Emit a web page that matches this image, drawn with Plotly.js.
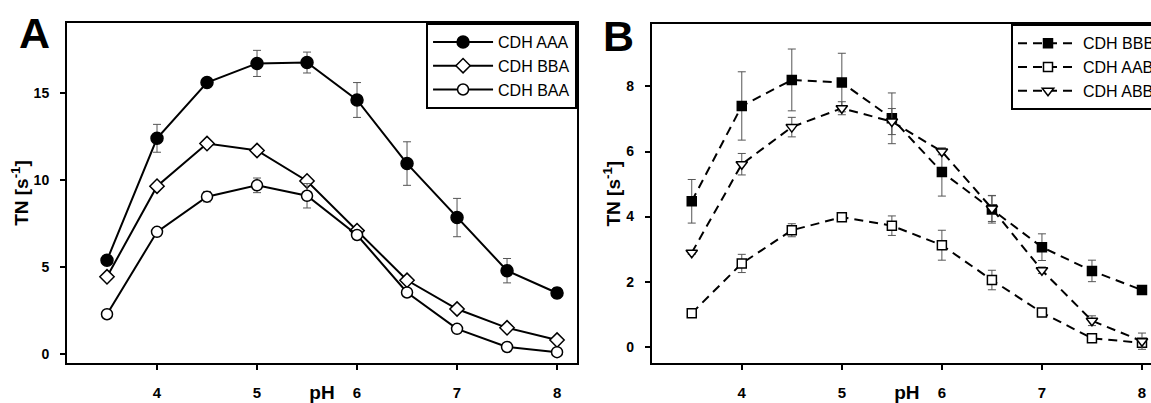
<!DOCTYPE html>
<html>
<head>
<meta charset="utf-8">
<script src="https://cdn.plot.ly/plotly-3.0.1.min.js"></script>
<style>
html, body { margin: 0; padding: 0; overflow: hidden; background: #fff; }
#chart { width: 1175px; height: 403px; }
</style>
</head>
<body>
<div id="chart"></div>
<script>
// ---- data ----
const pH = [3.5, 4.0, 4.5, 5.0, 5.5, 6.0, 6.5, 7.0, 7.5, 8.0];

// Panel A
const AAA = [5.4, 12.4, 15.6, 16.7, 16.75, 14.6, 10.95, 7.85, 4.8, 3.52];
const AAA_err = [0.2, 0.8, 0.2, 0.75, 0.6, 1.0, 1.25, 1.1, 0.7, 0.3];
const BBA = [4.45, 9.65, 12.1, 11.7, 9.95, 7.1, 4.25, 2.6, 1.52, 0.82];
const BBA_err = [0.1, 0.15, 0.15, 0.15, 0.15, 0.2, 0.15, 0.1, 0.1, 0.1];
const BAA = [2.3, 7.03, 9.05, 9.7, 9.1, 6.85, 3.55, 1.46, 0.42, 0.12];
const BAA_err = [0.1, 0.15, 0.3, 0.42, 0.7, 0.2, 0.2, 0.1, 0.1, 0.1];

// Panel B
const BBB = [4.47, 7.4, 8.2, 8.12, 7.02, 5.37, 4.22, 3.06, 2.33, 1.74];
const BBB_err = [0.67, 1.05, 0.95, 0.9, 0.78, 0.74, 0.42, 0.41, 0.33, 0.1];
const AAB = [1.03, 2.56, 3.58, 3.98, 3.72, 3.12, 2.05, 1.05, 0.26, 0.12];
const AAB_err = [0.05, 0.28, 0.2, 0.08, 0.3, 0.46, 0.3, 0.1, 0.05, 0.05];
const ABB = [2.89, 5.61, 6.75, 7.33, 6.92, 6.0, 4.25, 2.35, 0.8, 0.17];
const ABB_err = [0.05, 0.33, 0.3, 0.2, 0.4, 0.1, 0.4, 0.1, 0.15, 0.25];

const namesA = ['CDH AAA', 'CDH BBA', 'CDH BAA'];
const namesB = ['CDH BBB', 'CDH AAB', 'CDH ABB'];
const panelLabels = ['A', 'B'];
const xTicks = [4, 5, 6, 7, 8];
const yTicksA = [0, 5, 10, 15];
const yTicksB = [0, 2, 4, 6, 8];

// ---- styling ----
const FONT = 'Liberation Sans, Arial, Helvetica, sans-serif';
const errStyle = (arr) => ({type: 'data', array: arr, visible: true, color: '#555', thickness: 1, width: 4});

function tr(y, err, name, symbol, fill, dash, xa, ya, leg, size) {
  return {
    x: pH, y: y, name: name, type: 'scatter', mode: 'lines+markers',
    xaxis: xa, yaxis: ya, legend: leg,
    line: {color: '#000', width: 2, dash: dash},
    marker: {symbol: symbol, size: size, color: fill, line: {color: '#000', width: 1.5}},
    error_y: errStyle(err)
  };
}

const DASH = '9px,6px';
const data = [
  tr(AAA, AAA_err, namesA[0], 'circle', '#000', 'solid', 'x', 'y', 'legend', 12),
  tr(BBA, BBA_err, namesA[1], 'diamond', '#fff', 'solid', 'x', 'y', 'legend', 11),
  tr(BAA, BAA_err, namesA[2], 'circle', '#fff', 'solid', 'x', 'y', 'legend', 11),
  tr(BBB, BBB_err, namesB[0], 'square', '#000', DASH, 'x2', 'y2', 'legend2', 9),
  tr(AAB, AAB_err, namesB[1], 'square', '#fff', DASH, 'x2', 'y2', 'legend2', 9),
  tr(ABB, ABB_err, namesB[2], 'triangle-down', '#fff', DASH, 'x2', 'y2', 'legend2', 10)
];

function xaxis(domain, anchor) {
  return {
    domain: domain, range: [3.1, 8.2], tickvals: xTicks, ticks: 'outside', ticklen: 5,
    tickwidth: 2, tickcolor: '#000', showline: true, linecolor: '#000', linewidth: 2,
    mirror: true, showgrid: false, zeroline: false, anchor: anchor, ticklabelstandoff: 10,
    tickfont: {family: FONT, size: 15, color: '#000', weight: 'bold'},
    title: {text: 'pH', font: {family: FONT, size: 19, color: '#000', weight: 'bold'}, standoff: 8}
  };
}
function yaxis(domain, range, ticks, anchor, mirror) {
  return {
    domain: domain, range: range, tickvals: ticks, ticks: 'outside', ticklen: 5,
    tickwidth: 2, tickcolor: '#000', showline: true, linecolor: '#000', linewidth: 2,
    mirror: mirror, showgrid: false, zeroline: false, anchor: anchor, ticklabelstandoff: 8,
    tickfont: {family: FONT, size: 14, color: '#000', weight: 'bold'},
    title: {text: 'TN [s<sup>-1</sup>]', font: {family: FONT, size: 19, color: '#000', weight: 'bold'}, standoff: 0}
  };
}

const legendStyle = (x, y) => ({
  x: x, y: y, xanchor: 'right', yanchor: 'top', xref: 'paper', yref: 'paper',
  bgcolor: '#fff', bordercolor: '#000', borderwidth: 2,
  font: {family: FONT, size: 16, color: '#000'}, tracegroupgap: 0, itemwidth: 60
});

const layout = {
  width: 1175, height: 403,
  margin: {l: 67, r: 13, t: 23, b: 40},
  paper_bgcolor: '#fff', plot_bgcolor: '#fff',
  showlegend: true,
  xaxis: xaxis([0, 0.4658], 'y'),
  yaxis: yaxis([0, 1], [-0.5, 19.02], yTicksA, 'x', true),
  xaxis2: xaxis([0.534, 1], 'y2'),
  yaxis2: yaxis([0, 0.9962], [-0.5, 9.91], yTicksB, 'x2', true),
  legend: legendStyle(0.4658, 1),
  legend2: legendStyle(1, 0.9962),
  annotations: [
    {text: panelLabels[0], xref: 'paper', yref: 'paper', x: -0.0301, y: 0.9692, xanchor: 'center', yanchor: 'middle',
     showarrow: false, borderpad: 0, font: {family: FONT, size: 43, color: '#000', weight: 'bold'}},
    {text: panelLabels[1], xref: 'paper', yref: 'paper', x: 0.5041, y: 0.9627, xanchor: 'center', yanchor: 'middle',
     showarrow: false, borderpad: 0, font: {family: FONT, size: 43, color: '#000', weight: 'bold'}}
  ]
};

Plotly.newPlot('chart', data, layout, {displayModeBar: false, staticPlot: true});
</script>
</body>
</html>
